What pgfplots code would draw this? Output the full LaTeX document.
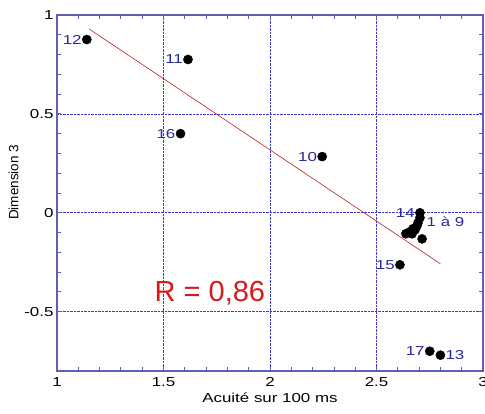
\documentclass[border=0pt]{standalone}
\usepackage{pgfplots}
\pgfplotsset{compat=1.18}
\usepackage{pgfplotstable}
\usepackage{fontspec}
\setmainfont{Liberation Sans}[FakeStretch=1.3]
\newfontfamily\plainsans{Liberation Sans}

\definecolor{axisblue}{RGB}{95,95,185}
\definecolor{gridblue}{RGB}{60,60,200}
\definecolor{labblue}{RGB}{40,40,160}
\definecolor{regred}{RGB}{190,30,30}
\definecolor{rred}{RGB}{215,25,25}

% points with a label on the left
\pgfplotstableread{
x     y      lab
1.14  0.876  12
1.615 0.775  11
1.58  0.400  16
2.245 0.284  10
2.704 0.000  14
2.61  -0.263 15
2.75  -0.700 17
}\leftpts

% points with a label on the right
\pgfplotstableread{
x     y      lab
2.80  -0.720 13
}\rightpts

% cluster 1 a 9
\pgfplotstableread{
x     y
2.704 -0.025
2.695 -0.051
2.690 -0.066
2.671 -0.081
2.657 -0.096
2.638 -0.106
2.667 -0.106
2.714 -0.132
2.681 -0.086
}\cluster

\begin{document}
\begin{tikzpicture}
\begin{axis}[
  scale only axis,
  width=426pt, height=356pt,
  xmin=1, xmax=3, ymin=-0.8, ymax=1,
  xtick={1,1.5,2,2.5,3},
  ytick={-0.5,0,0.5,1},
  minor x tick num=4, minor y tick num=4,
  tick align=inside,
  major tick length=4pt, minor tick length=4pt,
  grid=major,
  major grid style={densely dotted, gridblue, line width=0.6pt},
  axis line style={axisblue, line width=1.2pt},
  every tick/.style={axisblue, line width=0.8pt},
  /pgf/number format/assume math mode=true,
  ticklabel style={font=\fontsize{13}{15}\selectfont},
  xticklabel style={yshift=-3pt},
  xlabel={Acuité sur 100 ms},
  ylabel={Dimension 3},
  xlabel style={font=\fontsize{13}{15}\selectfont, yshift=1pt},
  ylabel style={font=\plainsans\fontsize{13.5}{15}\selectfont,
    at={(ticklabel cs:0.53)}, yshift=-1pt},
  clip=false,
]
% regression line
\addplot[regred, line width=0.6pt] coordinates {(1.15,0.93) (2.80,-0.258)};

\addplot[only marks, mark=*, mark size=4.6pt, black] table[x=x,y=y] {\cluster};

\addplot[only marks, mark=*, mark size=4.6pt, black,
  point meta=explicit symbolic,
  nodes near coords,
  every node near coord/.style={anchor=east, xshift=-4pt, inner sep=1pt,
    text=labblue, font=\fontsize{13}{15}\selectfont}]
  table[x=x,y=y,meta=lab] {\leftpts};

\addplot[only marks, mark=*, mark size=4.6pt, black,
  point meta=explicit symbolic,
  nodes near coords,
  every node near coord/.style={anchor=west, xshift=4pt, inner sep=1pt,
    text=labblue, font=\fontsize{13}{15}\selectfont}]
  table[x=x,y=y,meta=lab] {\rightpts};

\node[anchor=west, inner sep=1pt, text=labblue, font=\fontsize{13}{15}\selectfont]
  at (axis cs:2.73,-0.045) {1 à 9};

\node[text=rred, font=\plainsans\fontsize{29}{32}\selectfont] at (axis cs:1.718,-0.405) {R = 0,86};
\end{axis}
\pgfresetboundingbox
\path ([shift={(-57pt,-43pt)}]current axis.south west) rectangle ([shift={(2pt,15pt)}]current axis.north east);
\end{tikzpicture}
\end{document}
